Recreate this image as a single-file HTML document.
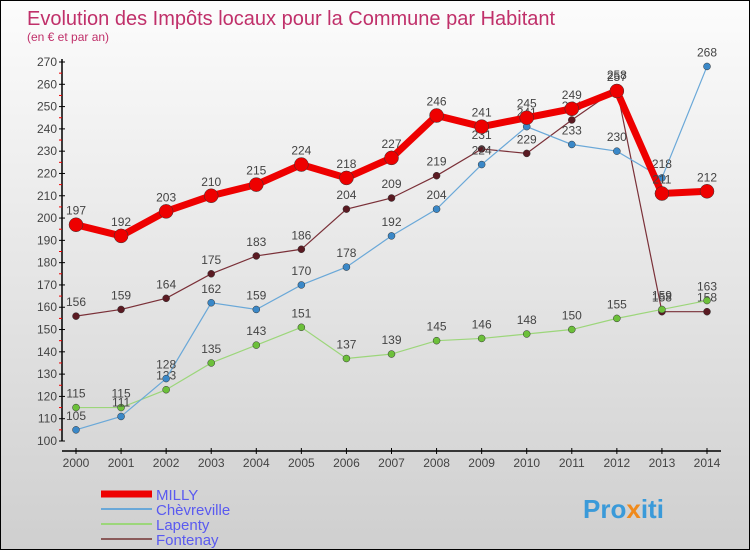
<!DOCTYPE html>
<html><head><meta charset="utf-8"><style>
body{margin:0;width:750px;height:550px;overflow:hidden;font-family:"Liberation Sans",sans-serif}
#wrap{position:relative;width:748px;height:548px;border:1px solid #000;background:linear-gradient(#fcfcfc,#cfcfcf)}
svg{position:absolute;left:0;top:0}
</style></head><body>
<div id="wrap">
<svg id="chart" width="750" height="550">
<text x="26" y="24" font-size="20" fill="#c0306a">Evolution des Impôts locaux pour la Commune par Habitant</text>
<text x="26" y="40" font-size="12" fill="#c0306a">(en € et par an)</text>
<g id="axes"></g><g id="series"></g><g id="legend"></g>
<text x="582" y="517" font-size="26" font-weight="bold" fill="#3a9ad9">Pro<tspan fill="#f08a1c">x</tspan>iti</text>
</svg></div>
<script>
const years=[2000,2001,2002,2003,2004,2005,2006,2007,2008,2009,2010,2011,2012,2013,2014];
const yTicks=[100,110,120,130,140,150,160,170,180,190,200,210,220,230,240,250,260,270];
const milly=[197,192,203,210,215,224,218,227,246,241,245,249,257,211,212];
const chevreville=[105,111,128,162,159,170,178,192,204,224,241,233,230,218,268];
const lapenty=[115,115,123,135,143,151,137,139,145,146,148,150,155,159,163];
const fontenay=[156,159,164,175,183,186,204,209,219,231,229,244,258,158,158];
const seriesNames=["MILLY","Chèvreville","Lapenty","Fontenay"];
const NS="http://www.w3.org/2000/svg";
const X=i=>75+i*(706-75)/(years.length-1);
const Y=v=>440-(v-100)*(440-61)/170;
function mk(p,t,a){const e=document.createElementNS(NS,t);for(const k in a)e.setAttribute(k,a[k]);p.appendChild(e);return e;}
const ax=document.getElementById('axes');
let yl=mk(ax,'line',{x1:61,y1:58,x2:61,y2:440,stroke:'#000','stroke-width':1.5});


let xl=mk(ax,'line',{x1:61,y1:450,x2:720,y2:450,stroke:'#000','stroke-width':1.5});


yTicks.forEach(v=>{
 mk(ax,'line',{x1:58,y1:Y(v),x2:64,y2:Y(v),stroke:'#000'});
 if(v<270) mk(ax,'line',{x1:58,y1:Y(v+5),x2:61,y2:Y(v+5),stroke:'#e00'});
 const t=mk(ax,'text',{x:56,y:Y(v)+4,'font-size':12,'text-anchor':'end',fill:'#444'});
 t.textContent=v;
 
 
});
years.forEach((yr,i)=>{
 mk(ax,'line',{x1:X(i),y1:447,x2:X(i),y2:453,stroke:'#000'});
 const t=mk(ax,'text',{x:X(i),y:466,'font-size':12,'text-anchor':'middle',fill:'#444'});
 t.textContent=yr;
 
 
});
const sg=document.getElementById('series');
const defs=[[fontenay,'#7a3038','#5a1a22',1.2,3.5,'fontenay'],[lapenty,'#9cd67a','#6cc03a',1.2,3.5,'lapenty'],[chevreville,'#6aa8d8','#3a88c8',1.2,3.5,'chevreville'],[milly,'#ee0000','#ee0000',7,7,'milly']];
defs.forEach(([d,c,pc,w,r,n])=>{
 const pl=mk(sg,'polyline',{points:d.map((v,i)=>X(i)+','+Y(v)).join(' '),fill:'none',stroke:c,'stroke-width':w});
 
 
 d.forEach((v,i)=>{
  const ci=mk(sg,'circle',{cx:X(i),cy:Y(v),r:r,fill:pc,stroke:'#333','stroke-width':0.5});
  
  
  const t=mk(sg,'text',{x:X(i),y:Y(v)-10,'font-size':12,'text-anchor':'middle',fill:'#444'});
  t.textContent=v;
  
  
 });
});
const lg=document.getElementById('legend');
const lc=[['#ee0000',7],['#6aa8d8',2],['#9cd67a',2],['#8a5a5a',2]];
seriesNames.forEach((s,k)=>{
 const y=493+k*15;
 mk(lg,'line',{x1:100,y1:y,x2:151,y2:y,stroke:lc[k][0],'stroke-width':lc[k][1]});
 const t=mk(lg,'text',{x:155,y:y+6,'font-size':15,fill:'#5a5af0'});
 t.textContent=s;
 
 
});
</script>
</body></html>
